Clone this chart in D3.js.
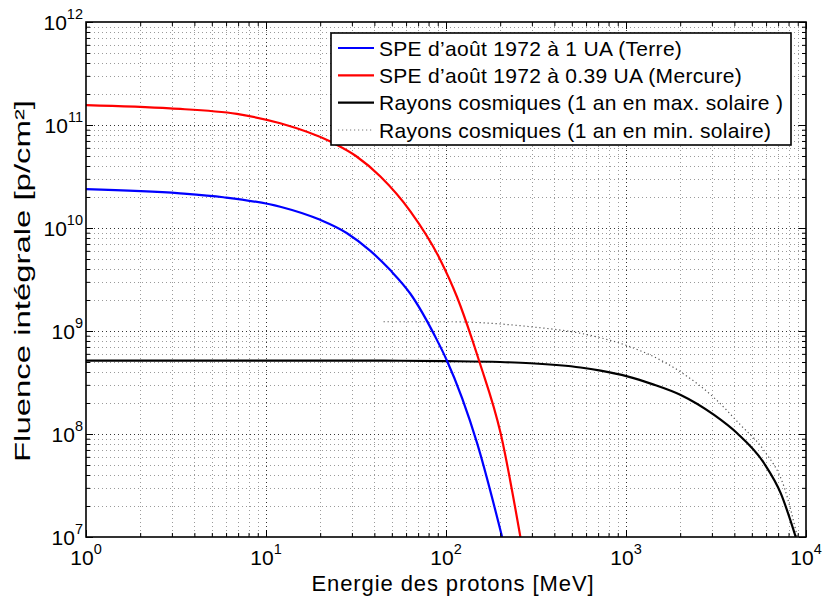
<!DOCTYPE html>
<html>
<head>
<meta charset="utf-8">
<script src="https://cdn.jsdelivr.net/npm/d3@7"></script>
<style>
  html, body { margin: 0; padding: 0; background: #fff; }
  svg { display: block; font-family: "Liberation Sans", Arial, Helvetica, sans-serif; }
</style>
</head>
<body>
<svg id="chart" width="824" height="598"></svg>
<script>
// ---- Data ----
const redE   = [1, 2.93, 6.89, 12, 22.8, 31.6, 43.2, 63.4, 93, 115, 140, 153.5, 201, 259];
const redF   = [1.56e11, 1.45e11, 1.28e11, 1.04e11, 6.9e10, 5.0e10, 3.16e10, 1.45e10, 4.9e9, 2.15e9, 8.2e8, 5.0e8, 1.02e8, 1e7];

const blueE  = [1, 3.33, 5.8, 12, 20, 28.2, 38, 49, 63.4, 89, 101, 149, 205];
const blueF  = [2.38e10, 2.17e10, 1.99e10, 1.61e10, 1.2e10, 8.9e9, 6.0e9, 3.9e9, 2.3e9, 8.2e8, 5.2e8, 8.1e7, 1e7];

const maxE   = [1, 45, 100, 200, 295, 559, 722, 1016, 1400, 2014, 3085, 4160, 5850, 7245, 8770];
const maxF   = [5.15e8, 5.15e8, 5.1e8, 5.0e8, 4.86e8, 4.42e8, 4.12e8, 3.63e8, 3.05e8, 2.39e8, 1.53e8, 1.01e8, 5.2e7, 2.65e7, 1e7];

const minE   = [45, 101, 295, 559, 722, 1016, 2014, 3085, 4335, 5850, 7550, 8960];
const minF   = [1.23e9, 1.23e9, 1.1e9, 9.5e8, 8.6e8, 7.2e8, 4.0e8, 2.25e8, 1.22e8, 6.9e7, 3.08e7, 1e7];

const xTickExp = [0, 1, 2, 3, 4];
const yTickExp = [7, 8, 9, 10, 11, 12];

const seriesNames = [
  "SPE d\u2019août 1972 à 1 UA (Terre)",
  "SPE d\u2019août 1972 à 0.39 UA (Mercure)",
  "Rayons cosmiques (1 an en max. solaire )",
  "Rayons cosmiques (1 an en min. solaire)"
];
const xTitle = "Energie des protons [MeV]";
const yTitle = "Fluence intégrale [p/cm²]";

// ---- Layout ----
const m = { left: 86, right: 806, top: 22, bottom: 537 };

const svg = d3.select("#chart");
const x = d3.scaleLog().domain([1, 1e4]).range([m.left, m.right]);
const y = d3.scaleLog().domain([1e7, 1e12]).range([m.bottom, m.top]);

const xMinor = [], yMinor = [];
for (let e = 0; e < 4; e++) for (let k = 2; k <= 9; k++) xMinor.push(k * Math.pow(10, e));
for (let e = 7; e < 12; e++) for (let k = 2; k <= 9; k++) yMinor.push(k * Math.pow(10, e));
const xMajor = xTickExp.map(e => Math.pow(10, e));
const yMajor = yTickExp.map(e => Math.pow(10, e));

svg.append("rect").attr("x", m.left).attr("y", m.top)
  .attr("width", m.right - m.left).attr("height", m.bottom - m.top).attr("fill", "#fff");

// grid
const grid = svg.append("g");
function vgrid(vals, color) {
  grid.selectAll(null).data(vals).enter().append("line")
    .attr("x1", d => Math.round(x(d)) + 0.5).attr("x2", d => Math.round(x(d)) + 0.5)
    .attr("y1", m.top).attr("y2", m.bottom)
    .attr("stroke", color).attr("stroke-width", 1).attr("stroke-dasharray", "1,3");
}
function hgrid(vals, color) {
  grid.selectAll(null).data(vals).enter().append("line")
    .attr("y1", d => Math.round(y(d)) + 0.5).attr("y2", d => Math.round(y(d)) + 0.5)
    .attr("x1", m.left).attr("x2", m.right)
    .attr("stroke", color).attr("stroke-width", 1).attr("stroke-dasharray", "1,3");
}
vgrid(xMinor, "#9a9a9a");
hgrid(yMinor, "#9a9a9a");
vgrid(xMajor.slice(1, -1), "#333");
hgrid(yMajor.slice(1, -1), "#333");

svg.append("clipPath").attr("id", "clip").append("rect")
  .attr("x", m.left).attr("y", m.top).attr("width", m.right - m.left).attr("height", m.bottom - m.top);

const line = d3.line().x(d => x(d[0])).y(d => y(d[1])).curve(d3.curveMonotoneX);
const zip = (a, b) => a.map((v, i) => [v, b[i]]);

const plot = svg.append("g").attr("clip-path", "url(#clip)");
plot.append("path").datum(zip(minE, minF)).attr("d", line)
  .attr("fill", "none").attr("stroke", "#555").attr("stroke-width", 1.2).attr("stroke-dasharray", "1.2,2.8");
plot.append("path").datum(zip(maxE, maxF)).attr("d", line)
  .attr("fill", "none").attr("stroke", "#000").attr("stroke-width", 2.2);
plot.append("path").datum(zip(blueE, blueF)).attr("d", line)
  .attr("fill", "none").attr("stroke", "#0000ff").attr("stroke-width", 2.2);
plot.append("path").datum(zip(redE, redF)).attr("d", line)
  .attr("fill", "none").attr("stroke", "#ff0000").attr("stroke-width", 2.2);

// axes (inward ticks, all four sides)
const axG = svg.append("g");
function addAxis(axis, tx, ty) {
  const g = axG.append("g").attr("transform", `translate(${tx},${ty})`).call(axis);
  g.selectAll("text").remove();
  g.select(".domain").remove();
  g.selectAll("line").attr("stroke", "#000").attr("stroke-width", 1);
}
addAxis(d3.axisBottom(x).tickValues(xMajor).tickSize(-7).tickFormat(""), 0, m.bottom);
addAxis(d3.axisBottom(x).tickValues(xMinor).tickSize(-4).tickFormat(""), 0, m.bottom);
addAxis(d3.axisTop(x).tickValues(xMajor).tickSize(-7).tickFormat(""), 0, m.top);
addAxis(d3.axisTop(x).tickValues(xMinor).tickSize(-4).tickFormat(""), 0, m.top);
addAxis(d3.axisLeft(y).tickValues(yMajor).tickSize(-7).tickFormat(""), m.left, 0);
addAxis(d3.axisLeft(y).tickValues(yMinor).tickSize(-4).tickFormat(""), m.left, 0);
addAxis(d3.axisRight(y).tickValues(yMajor).tickSize(-7).tickFormat(""), m.right, 0);
addAxis(d3.axisRight(y).tickValues(yMinor).tickSize(-4).tickFormat(""), m.right, 0);

svg.append("rect").attr("x", m.left).attr("y", m.top)
  .attr("width", m.right - m.left).attr("height", m.bottom - m.top)
  .attr("fill", "none").attr("stroke", "#000").attr("stroke-width", 1.6);

// tick labels
const xl = svg.append("g").selectAll(null).data(xTickExp).enter().append("text")
  .attr("x", d => x(Math.pow(10, d))).attr("y", 565)
  .attr("text-anchor", "middle").attr("font-size", 21).attr("fill", "#000");
xl.append("tspan").text("10");
xl.append("tspan").attr("dy", -11).attr("font-size", 14.5).text(d => d);

const yl = svg.append("g").selectAll(null).data(yTickExp).enter().append("text")
  .attr("x", 83).attr("y", d => y(Math.pow(10, d)) + 8)
  .attr("text-anchor", "end").attr("font-size", 21).attr("fill", "#000");
yl.append("tspan").text("10");
yl.append("tspan").attr("dy", -11).attr("font-size", 14.5).text(d => d);

// axis titles
svg.append("text").attr("x", 453).attr("y", 590.5).attr("text-anchor", "middle")
  .attr("font-size", 22).attr("letter-spacing", 0.9).text(xTitle);
svg.append("text").attr("transform", "translate(30,281) rotate(-90)").attr("text-anchor", "middle")
  .attr("font-size", 21.5).attr("textLength", 362).attr("lengthAdjust", "spacingAndGlyphs").text(yTitle);

// legend
const leg = svg.append("g");
leg.append("rect").attr("x", 331).attr("y", 33).attr("width", 460).attr("height", 112)
  .attr("fill", "#fff").attr("stroke", "#000").attr("stroke-width", 1.6);
const legStyles = [
  { c: "#0000ff", w: 2.2, d: null },
  { c: "#ff0000", w: 2.2, d: null },
  { c: "#000", w: 2.2, d: null },
  { c: "#777", w: 1.2, d: "1.2,2.8" }
];
const rowY = d3.scaleLinear().domain([0, 3]).range([48, 130]);
seriesNames.forEach((name, i) => {
  const yy = rowY(i);
  const l = leg.append("line").attr("x1", 338).attr("x2", 374).attr("y1", yy).attr("y2", yy)
    .attr("stroke", legStyles[i].c).attr("stroke-width", legStyles[i].w);
  if (legStyles[i].d) l.attr("stroke-dasharray", legStyles[i].d);
  leg.append("text").attr("x", 379).attr("y", yy + 7.5).attr("font-size", 21)
    .attr("letter-spacing", 0.3).text(name);
});
</script>
</body>
</html>
